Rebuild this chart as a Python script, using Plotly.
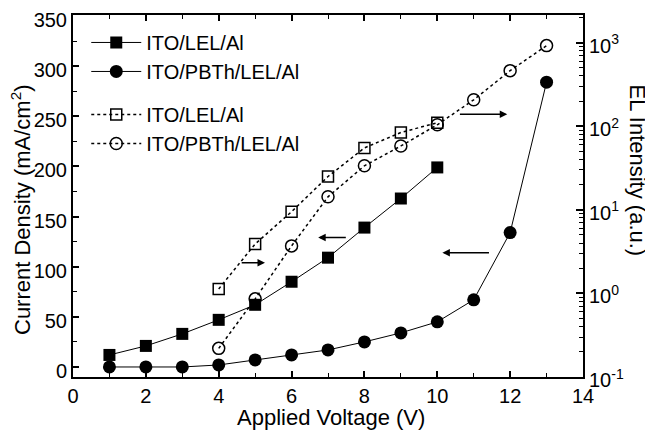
import plotly.graph_objects as go

# ---- data ----
voltage_lel = [1, 2, 3, 4, 5, 6, 7, 8, 9, 10]
current_lel = [12, 21, 33, 47, 62, 85, 109, 139, 168, 199]

voltage_pbth = [1, 2, 3, 4, 5, 6, 7, 8, 9, 10, 11, 12, 13]
current_pbth = [0, 0, 0, 2, 7, 12, 17, 25, 34, 45, 67, 134, 284]

el_voltage_lel = [4, 5, 6, 7, 8, 9, 10]
el_lel = [1.13, 3.9, 9.5, 25, 55, 84, 110]

el_voltage_pbth = [4, 5, 6, 7, 8, 9, 10, 11, 12, 13]
el_pbth = [0.22, 0.86, 3.7, 14.3, 33.6, 58, 104, 207, 462, 920]

names = ["ITO/LEL/Al", "ITO/PBTh/LEL/Al", "ITO/LEL/Al", "ITO/PBTh/LEL/Al"]

x_ticks = [0, 2, 4, 6, 8, 10, 12, 14]
y_ticks = [0, 50, 100, 150, 200, 250, 300, 350]
el_decades = [-1, 0, 1, 2, 3]

# arrows: (tail_x, tail_y, head_x, head_y) on left-axis data scale
arrows = [
    (4.59, 104, 5.27, 104),
    (7.53, 129, 6.73, 129),
    (11.46, 114, 10.14, 114),
    (10.58, 252, 11.92, 252),
]

FONT = "Liberation Sans, Arial, Helvetica, sans-serif"
TICK = 20
TITLE = 22

fig = go.Figure()

fig.add_trace(go.Scatter(
    x=voltage_lel, y=current_lel, name=names[0], mode="lines+markers",
    line=dict(color="black", width=1),
    marker=dict(symbol="square", size=12, color="black"),
    legendgroup="g1",
))
fig.add_trace(go.Scatter(
    x=voltage_pbth, y=current_pbth, name=names[1], mode="lines+markers",
    line=dict(color="black", width=1),
    marker=dict(symbol="circle", size=13, color="black"),
    legendgroup="g1",
))
fig.add_trace(go.Scatter(
    x=el_voltage_lel, y=el_lel, name=names[2], mode="lines+markers", yaxis="y2",
    line=dict(color="black", width=1.5, dash="dot"),
    marker=dict(symbol="square-open", size=11, color="black", line=dict(width=1.5)),
    legendgroup="g2",
))
fig.add_trace(go.Scatter(
    x=el_voltage_pbth, y=el_pbth, name=names[3], mode="lines+markers", yaxis="y2",
    line=dict(color="black", width=1.5, dash="dot"),
    marker=dict(symbol="circle-open", size=12, color="black", line=dict(width=1.5)),
    legendgroup="g2",
))

for tx, ty, hx, hy in arrows:
    fig.add_annotation(
        x=hx, y=hy, ax=tx, ay=ty, xref="x", yref="y", axref="x", ayref="y",
        showarrow=True, arrowhead=2, arrowsize=1, arrowwidth=1.5,
        arrowcolor="black", text="",
    )

minor_log = [m * 10 ** d for d in el_decades[:-1] for m in range(2, 10)] + [2000]

# axis titles as annotations for exact placement
fig.add_annotation(
    text="EL Intensity (a.u.)", xref="paper", yref="paper", x=1.106, y=0.57,
    textangle=90, showarrow=False, font=dict(size=TITLE, color="black", family=FONT),
    xanchor="center", yanchor="middle",
)
fig.add_annotation(
    text="Current Density (mA/cm<sup>2</sup>)", xref="paper", yref="paper",
    x=-0.102, y=0.464, textangle=-90, showarrow=False,
    font=dict(size=TITLE, color="black", family=FONT),
    xanchor="center", yanchor="middle",
)
fig.add_annotation(
    text="Applied Voltage (V)", xref="paper", yref="paper",
    x=0.506, y=-0.113, showarrow=False,
    font=dict(size=TITLE, color="black", family=FONT),
    xanchor="center", yanchor="middle",
)

# page body has an 8px default margin; size the figure to fit the 653x433 window
fig.update_layout(
    width=645, height=425,
    margin=dict(l=65, r=70, t=7, b=56),
    paper_bgcolor="white", plot_bgcolor="white",
    font=dict(family=FONT, size=TICK, color="black"),
    showlegend=True,
    legend=dict(
        x=0.026, y=0.978, xanchor="left", yanchor="top",
        bgcolor="rgba(0,0,0,0)", font=dict(size=20),
        tracegroupgap=14, itemwidth=50, traceorder="grouped",
    ),
    xaxis=dict(
        range=[0, 14], tickvals=x_ticks, ticks="inside", ticklen=6,
        tickwidth=1.5, tickcolor="black", showline=True, linewidth=2,
        linecolor="black", mirror="ticks", showgrid=False, zeroline=False,
        minor=dict(dtick=1, ticks="inside", ticklen=4, tickcolor="black", tickwidth=1),
        tickfont=dict(size=TICK), automargin=False, ticklabeloverflow="allow",
    ),
    yaxis=dict(
        range=[-10, 351], tickvals=y_ticks, ticks="inside", ticklen=6,
        tickwidth=1.5, tickcolor="black", showline=True, linewidth=2,
        linecolor="black", showgrid=False, zeroline=False,
        minor=dict(dtick=25, tick0=0, ticks="inside", ticklen=4, tickcolor="black", tickwidth=1),
        tickfont=dict(size=TICK), automargin=False, ticklabeloverflow="allow",
        ticklabelshift=4,
    ),
    yaxis2=dict(
        type="log", overlaying="y", side="right", range=[-1, 3.33],
        tickvals=[10 ** d for d in el_decades],
        ticktext=[f"10<sup>{d}</sup>" for d in el_decades],
        ticks="inside", ticklen=7, tickwidth=1.5, tickcolor="black",
        showline=True, linewidth=2, linecolor="black", showgrid=False,
        zeroline=False,
        minor=dict(tickvals=minor_log, ticks="inside", ticklen=4, tickcolor="black", tickwidth=1),
        tickfont=dict(size=TICK), automargin=False, ticklabeloverflow="allow",
        ticklabelshift=3,
    ),
)

fig.write_html("out.html")
